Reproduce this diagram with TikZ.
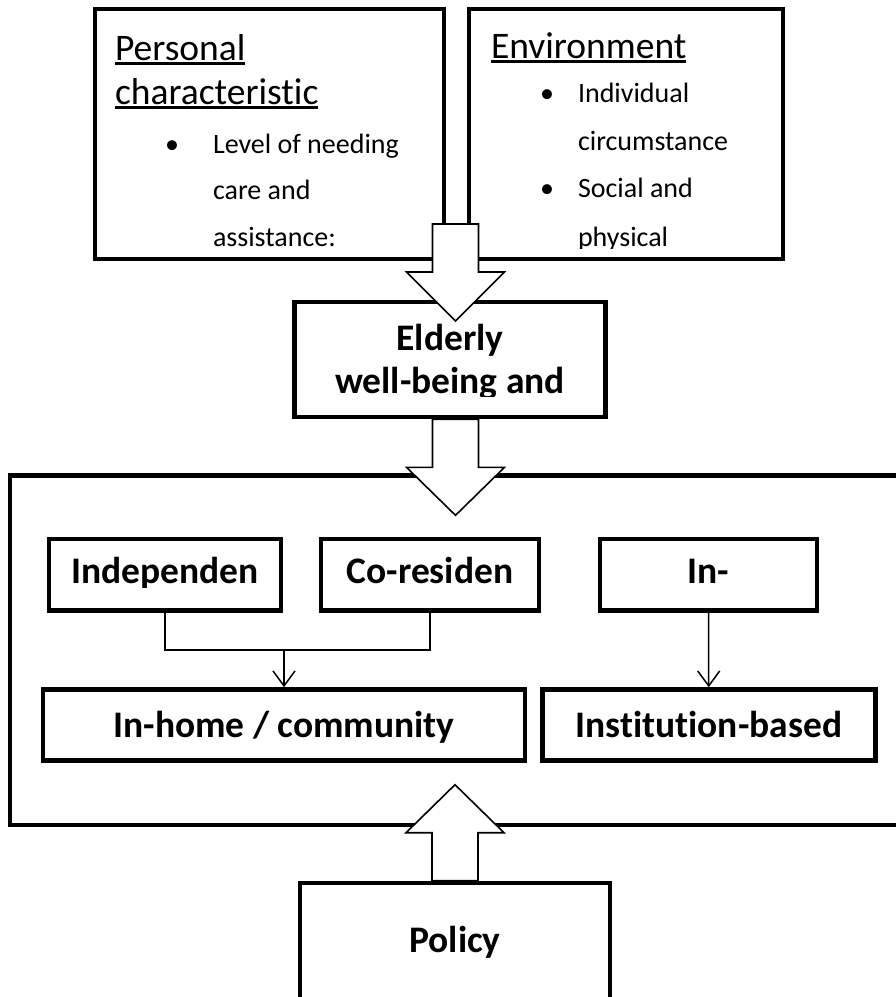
\documentclass[tikz,border=0pt]{standalone}
\usepackage{fontspec}
\setmainfont{Carlito}[Ligatures=NoCommon]
\usetikzlibrary{arrows.meta}
\begin{document}
\begin{tikzpicture}[x=1pt,y=-1pt,
  box/.style={draw, line width=4.6pt, inner sep=0pt},
  hollow/.style={draw, line width=1.6pt, fill=white, line join=miter},
  link/.style={draw, line width=1.5pt},
  tip/.style={-{Straight Barb[length=15pt,width=22pt,line width=1.5pt]}},
  txt/.style={inner sep=0pt, outer sep=0pt},
  headfont/.style={font=\fontsize{37.5}{44}\selectfont},
  itemfont/.style={font=\fontsize{28}{34}\selectfont},
  boldfont/.style={font=\fontsize{37.5}{43}\selectfont\bfseries},
  uline/.style={line width=2.2pt},
]
\useasboundingbox (0,0) rectangle (896,997);
\fill[white] (0,0) rectangle (896,997);

% --- top row: the two factor boxes ---
\node[box, minimum width=349pt, minimum height=250pt] (pers) at (269.5,134) {};
\node[box, minimum width=314pt, minimum height=250pt] (env) at (626,134) {};

\begin{scope}
  \clip (97,11) rectangle (442,248);
  \node[txt, headfont, anchor=base west] (pt1) at (115,60) {Personal~};
  \node[txt, headfont, anchor=base west] (pt2) at (115,104) {characteristic};
  \draw[uline] ([yshift=-3.5pt]pt1.base west) -- ([yshift=-3.5pt]pt1.base east);
  \draw[uline] ([yshift=-3.5pt]pt2.base west) -- ([yshift=-3.5pt]pt2.base east);
  \node[txt, itemfont, anchor=base west] (pb1) at (165,153) {\textbullet};
  \node[txt, itemfont, anchor=base west] (pi1) at (213,153) {Level of needing};
  \node[txt, itemfont, anchor=base west] (pi2) at (213,199) {care and};
  \node[txt, itemfont, anchor=base west] (pi3) at (213,246) {assistance:};
\end{scope}

\begin{scope}
  \clip (471,11) rectangle (781,248);
  \node[txt, headfont, anchor=base west] (et1) at (491,58) {Environment~};
  \draw[uline] ([yshift=-3.5pt]et1.base west) -- ([yshift=-3.5pt]et1.base east);
  \node[txt, itemfont, anchor=base west] (eb1) at (540,102) {\textbullet};
  \node[txt, itemfont, anchor=base west] (ei1) at (578,102) {Individual};
  \node[txt, itemfont, anchor=base west] (ei2) at (578,150) {circumstance};
  \node[txt, itemfont, anchor=base west] (eb2) at (540,197) {\textbullet};
  \node[txt, itemfont, anchor=base west] (ei3) at (578,197) {Social and};
  \node[txt, itemfont, anchor=base west] (ei4) at (578,246) {physical};
\end{scope}

% --- outcome box ---
\node[box, minimum width=311pt, minimum height=115pt] (eld) at (450,359.5) {};
\begin{scope}
  \clip (297,304) rectangle (603,396);
  \node[txt, boldfont, anchor=base] (el1) at (450,350) {Elderly};
  \node[txt, boldfont, anchor=base] (el2) at (450,393) {well-being and};
\end{scope}

% --- care arrangements frame ---
\node[box, minimum width=900pt, minimum height=349.5pt] (frame) at (460,650.25) {};

\node[box, minimum width=232pt, minimum height=71.5pt] (ind) at (165,574.75) {};
\node[box, minimum width=218pt, minimum height=71.5pt] (cor) at (430,574.75) {};
\node[box, minimum width=217pt, minimum height=71.5pt] (inst) at (708.5,574.75) {};
\node[box, minimum width=482pt, minimum height=71pt] (home) at (284,725) {};
\node[box, minimum width=333pt, minimum height=71pt] (inbased) at (708.75,725) {};

\begin{scope}
  \clip (51,541) rectangle (279,587);
  \node[txt, boldfont, anchor=base] (indt) at (ind.center |- 0,583) {Independen};
\end{scope}
\node[txt, boldfont, anchor=base] (cort) at (cor.center |- 0,583) {Co-residen};
\node[txt, boldfont, anchor=base] (instt) at (inst.center |- 0,583) {In-};
\node[txt, boldfont, anchor=base] (homet) at (home.center |- 0,737) {In-home / community};
\node[txt, boldfont, anchor=base] (inbasedt) at (inbased.center |- 0,737) {Institution-based};

\coordinate (rail) at (0,650);
\draw[link] (ind.south) |- (rail -| cor.south) -- (cor.south);
\draw[link, tip] (rail -| home.north) -- (home.north);
\draw[link, tip] (inst.south) -- (inbased.north);

% --- policy box ---
\node[box, minimum width=310pt, minimum height=127pt] (pol) at (455,946.5) {};
\node[txt, boldfont, anchor=base] (polt) at (455,952) {Policy};

% --- block arrows ---
\coordinate (a1) at (455.5,224);
\draw[hollow] (a1) ++(-23,0) -- ++(0,48) -- ++(-26,0) -- ++(49,49) -- ++(49,-49) -- ++(-26,0) -- ++(0,-48) -- cycle;
\draw[hollow] (eld.south -| a1) ++(-23,0) -- ++(0,48) -- ++(-26,0) -- ++(49,48) -- ++(49,-48) -- ++(-26,0) -- ++(0,-48) -- cycle;
\draw[hollow] (pol.north) ++(-23,0) -- ++(0,-48) -- ++(-26,0) -- ++(49,-48) -- ++(49,48) -- ++(-26,0) -- ++(0,48) -- cycle;
\end{tikzpicture}
\end{document}
